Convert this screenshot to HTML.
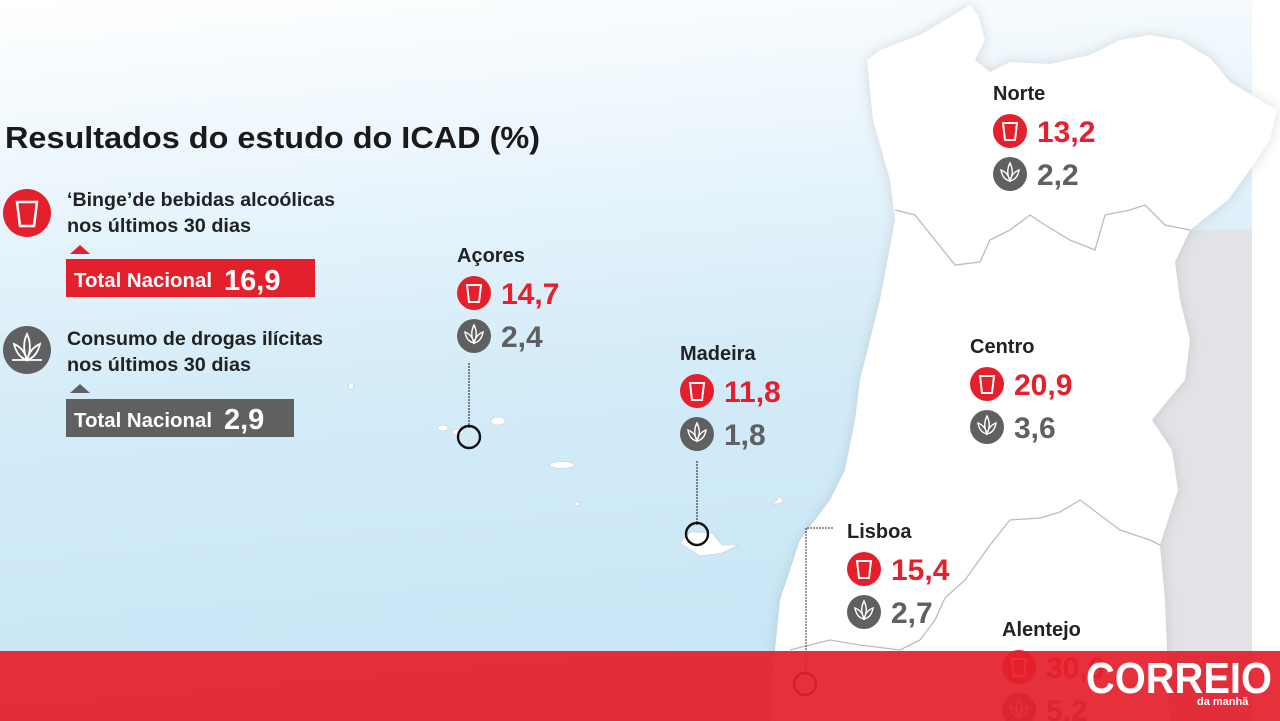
<!DOCTYPE html>
<html><head><meta charset="utf-8"><style>
html,body{margin:0;padding:0;width:1280px;height:721px;overflow:hidden;background:#fff}
svg{display:block;font-family:"Liberation Sans",sans-serif}
</style></head><body>
<svg id="chart" width="1280" height="721" viewBox="0 0 1280 721">
<defs>
<linearGradient id="sea" x1="0" y1="0" x2="0.15" y2="1">
<stop offset="0" stop-color="#ffffff"/><stop offset="0.2" stop-color="#f0f8fd"/><stop offset="0.55" stop-color="#d5ecf8"/><stop offset="1" stop-color="#c6e5f6"/>
</linearGradient>
<filter id="sh" x="-10%" y="-10%" width="120%" height="120%"><feGaussianBlur stdDeviation="6"/></filter>
</defs>
<rect width="1280" height="721" fill="url(#sea)"/>
<rect x="1252" y="0" width="28" height="721" fill="#fff"/>
<path d="M1110 230 L1252 230 L1252 651 L1110 651 Z" fill="#e2e3e6"/>
<g>
<path d="M867 60 L880 50 L920 35 L945 20 L970 5 L978 15 L985 40 L975 60 L990 72 L1010 62 L1050 64 L1090 55 L1120 40 L1150 35 L1180 40 L1210 58 L1230 82 L1260 100 L1277 110 L1270 140 L1250 170 L1228 200 L1190 230 L1175 262 L1180 300 L1190 340 L1185 380 L1168 400 L1152 420 L1172 450 L1178 490 L1168 520 L1160 545 L1165 600 L1170 721 L770 721 L775 651 L780 600 L790 570 L800 540 L815 520 L830 500 L845 470 L855 420 L860 380 L880 300 L895 220 L890 180 L873 120 Z" fill="#999" opacity="0.35" filter="url(#sh)"/>
<path d="M867 60 L880 50 L920 35 L945 20 L970 5 L978 15 L985 40 L975 60 L990 72 L1010 62 L1050 64 L1090 55 L1120 40 L1150 35 L1180 40 L1210 58 L1230 82 L1260 100 L1277 110 L1270 140 L1250 170 L1228 200 L1190 230 L1175 262 L1180 300 L1190 340 L1185 380 L1168 400 L1152 420 L1172 450 L1178 490 L1168 520 L1160 545 L1165 600 L1170 721 L770 721 L775 651 L780 600 L790 570 L800 540 L815 520 L830 500 L845 470 L855 420 L860 380 L880 300 L895 220 L890 180 L873 120 Z" fill="#fff"/>
<path d="M895 210 L915 215 L935 240 L955 265 L980 262 L990 240 L1010 230 L1030 215 L1045 225 L1070 240 L1095 250 L1105 215 L1130 210 L1145 205 L1165 225 L1190 230" fill="none" stroke="#b8bcc0" stroke-width="1.3"/>
<path d="M945 598 L965 580 L990 545 L1010 520 L1040 518 L1060 512 L1080 500 L1100 515 L1120 530 L1150 540 L1160 545" fill="none" stroke="#b8bcc0" stroke-width="1.3"/>
<path d="M945 598 L935 620 L920 640 L900 650 L860 645 L830 640 L790 650" fill="none" stroke="#b8bcc0" stroke-width="1.3"/>
</g>
<g fill="#fff" stroke="#ccc" stroke-width="0.6">
<ellipse cx="443" cy="428" rx="5" ry="3"/><ellipse cx="458" cy="432" rx="6" ry="3"/><ellipse cx="498" cy="421" rx="7" ry="4"/>
<ellipse cx="562" cy="465" rx="12" ry="3.5"/><ellipse cx="577" cy="504" rx="3" ry="2"/><ellipse cx="351" cy="386" rx="2.5" ry="3"/>
<path d="M680 543 L690 532 L712 533 L722 545 L738 545 L722 553 L700 556 Z"/><path d="M773 505 L780 496 L783 502 Z"/>
</g>
<g fill="none" stroke="#111" stroke-width="2.4">
<line x1="469" y1="363" x2="469" y2="428" stroke-width="1" stroke-dasharray="2,1"/>
<circle cx="469" cy="437" r="11"/>
<line x1="697" y1="461" x2="697" y2="525" stroke-width="1" stroke-dasharray="2,1"/>
<circle cx="697" cy="534" r="11"/>
<polyline points="833,528 806,528 806,675" stroke-width="1" stroke-dasharray="2,1" stroke="#333"/>
<circle cx="805" cy="684" r="11"/>
</g>
<text x="5" y="148" font-size="31" font-weight="bold" fill="#1a1a1a" textLength="535" lengthAdjust="spacingAndGlyphs">Resultados do estudo do ICAD (%)</text>
<g>
<circle cx="27" cy="213" r="24" fill="#e4202c"/>
<path d="M17 202 L37 202 L34 226 L20 226 Z" fill="none" stroke="#fff" stroke-width="2.5"/>
<text x="67" y="206" font-size="19" font-weight="bold" fill="#222" textLength="268" lengthAdjust="spacingAndGlyphs">‘Binge’de bebidas alcoólicas</text>
<text x="67" y="232" font-size="19" font-weight="bold" fill="#222" textLength="184" lengthAdjust="spacingAndGlyphs">nos últimos 30 dias</text>
<path d="M70 254 L80 245 L90 254 Z" fill="#e4202c"/>
<rect x="66" y="259" width="249" height="38" fill="#e4202c"/>
<text x="74" y="287" font-size="20" font-weight="bold" fill="#fff" textLength="138" lengthAdjust="spacingAndGlyphs">Total Nacional</text>
<text x="224" y="290" font-size="29" font-weight="bold" fill="#fff" id="totBinge">16,9</text>
</g>
<g>
<circle cx="27" cy="350" r="24" fill="#5f6062"/>
<path d="M27 334 C31 342 31 350 27 360 C23 350 23 342 27 334 Z M14 344 C21 347 25 352 27 360 C20 358 16 352 14 344 Z M40 344 C33 347 29 352 27 360 C34 358 38 352 40 344 Z M12 360 L42 360" fill="none" stroke="#fff" stroke-width="1.8"/>
<text x="67" y="345" font-size="19" font-weight="bold" fill="#222" textLength="256" lengthAdjust="spacingAndGlyphs">Consumo de drogas ilícitas</text>
<text x="67" y="371" font-size="19" font-weight="bold" fill="#222" textLength="184" lengthAdjust="spacingAndGlyphs">nos últimos 30 dias</text>
<path d="M70 393 L80 384 L90 393 Z" fill="#5f6062"/>
<rect x="66" y="399" width="228" height="38" fill="#5f6062"/>
<text x="74" y="427" font-size="20" font-weight="bold" fill="#fff" textLength="138" lengthAdjust="spacingAndGlyphs">Total Nacional</text>
<text x="224" y="429" font-size="29" font-weight="bold" fill="#fff" id="totDrugs">2,9</text>
</g>
<g id="regions"></g>
<rect x="0" y="651" width="1280" height="70" fill="#e4202c" opacity="0.93"/>
<g>
<text x="1086" y="693" font-size="44" font-weight="bold" fill="#fff" textLength="186" lengthAdjust="spacingAndGlyphs">CORREIO</text>
<text x="1197" y="705" font-size="11" font-weight="bold" fill="#fff">da manhã</text>
</g>
</svg>
<script>
const regionNames = ["Açores","Madeira","Norte","Centro","Lisboa","Alentejo"];
const bingeValues = [14.7, 11.8, 13.2, 20.9, 15.4, 30.6];
const drugValues = [2.4, 1.8, 2.2, 3.6, 2.7, 5.2];
const layout = [[457,262],[680,360],[993,100],[970,353],[847,538],[1002,636]];
const NS = "http://www.w3.org/2000/svg";
const g = document.getElementById("regions");
function fmt(v){return v.toFixed(1).replace(".",",");}
function mk(tag, attrs, parent){const e=document.createElementNS(NS,tag);for(const k in attrs)e.setAttribute(k,attrs[k]);parent.appendChild(e);return e;}
regionNames.forEach((name,i)=>{
  const [x,y]=layout[i];
  const grp=mk("g",{},g);
  
  
  const t=mk("text",{x:x,y:y,"font-size":20,"font-weight":"bold",fill:"#222"},grp);
  t.textContent=name;
  const cx=x+17, cy1=y+31, cy2=y+74;
  const c1=mk("circle",{cx:cx,cy:cy1,r:17,fill:"#e4202c"},grp);
  
  
  mk("path",{d:`M${cx-7} ${cy1-8} L${cx+7} ${cy1-8} L${cx+5} ${cy1+9} L${cx-5} ${cy1+9} Z`,fill:"none",stroke:"#fff","stroke-width":2},grp);
  const v1=mk("text",{x:x+44,y:cy1+11,"font-size":30,"font-weight":"bold",fill:"#e4202c"},grp);
  v1.textContent=fmt(bingeValues[i]);
  
  
  const c2=mk("circle",{cx:cx,cy:cy2,r:17,fill:"#5f6062"},grp);
  
  
  mk("path",{d:`M${cx} ${cy2-11} C${cx+3} ${cy2-5} ${cx+3} ${cy2} ${cx} ${cy2+7} C${cx-3} ${cy2} ${cx-3} ${cy2-5} ${cx} ${cy2-11} Z M${cx-9} ${cy2-4} C${cx-4} ${cy2-2} ${cx-1} ${cy2+2} ${cx} ${cy2+7} C${cx-5} ${cy2+6} ${cx-8} ${cy2+2} ${cx-9} ${cy2-4} Z M${cx+9} ${cy2-4} C${cx+4} ${cy2-2} ${cx+1} ${cy2+2} ${cx} ${cy2+7} C${cx+5} ${cy2+6} ${cx+8} ${cy2+2} ${cx+9} ${cy2-4} Z`,fill:"none",stroke:"#fff","stroke-width":1.4},grp);
  const v2=mk("text",{x:x+44,y:cy2+11,"font-size":30,"font-weight":"bold",fill:"#5f6062"},grp);
  v2.textContent=fmt(drugValues[i]);
  
  
});
</script>
</body></html>
